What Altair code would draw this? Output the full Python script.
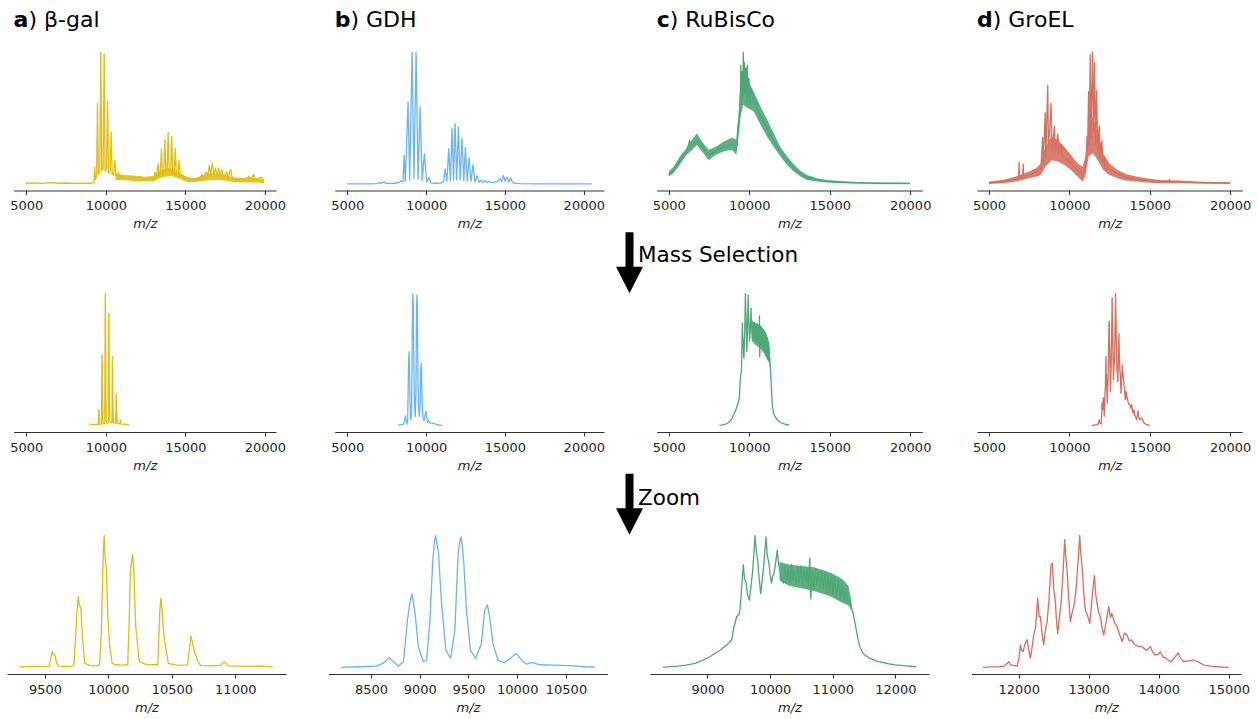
import altair as alt
import pandas as pd

FONT = "DejaVu Sans"

# ---------------- colours / titles ----------------
COLORS = {"a": "#E1BE12", "b": "#6BB4F5", "c": "#4DA776", "d": "#D66F5E"}
TITLES = {"a": ") β-gal", "b": ") GDH", "c": ") RuBisCo", "d": ") GroEL"}
TITLE_SIZE = 22
LETTER_W = {"a": 14.85, "b": 15.75, "c": 13.05, "d": 15.75}

# ---------------- row 1: full spectra (m/z, normalised intensity) ----------------
A_FULL = [(4950, 0.005), (5500, 0.008), (6000, 0.004), (6500, 0.009), (7000, 0.005), (7500, 0.007),
          (8000, 0.004), (8500, 0.006), (9000, 0.005), (9250, 0.01), (9300, 0.127), (9350, 0.03),
          (9420, 0.06), (9476, 0.61), (9530, 0.07), (9620, 0.10), (9686, 1.0), (9740, 0.10),
          (9830, 0.12), (9895, 0.987), (9950, 0.10), (10040, 0.11), (10105, 0.628), (10170, 0.08),
          (10270, 0.09), (10335, 0.394), (10400, 0.07), (10500, 0.07), (10566, 0.178), (10630, 0.06),
          (10750, 0.07), (10800, 0.09), (10860, 0.05), (11000, 0.06), (11200, 0.045), (11500, 0.05),
          (11800, 0.04), (12100, 0.05), (12400, 0.035), (12700, 0.045), (13000, 0.03), (13100, 0.09),
          (13150, 0.04), (13289, 0.153), (13350, 0.06), (13430, 0.08), (13500, 0.267), (13560, 0.07),
          (13650, 0.09), (13710, 0.336), (13780, 0.09), (13860, 0.10), (13918, 0.389), (13990, 0.10),
          (14080, 0.10), (14140, 0.361), (14210, 0.08), (14300, 0.08), (14370, 0.267), (14440, 0.07),
          (14540, 0.07), (14610, 0.176), (14680, 0.06), (14800, 0.07), (15000, 0.04), (15300, 0.035),
          (15600, 0.03), (15900, 0.04), (16050, 0.07), (16150, 0.05), (16300, 0.09), (16400, 0.06),
          (16500, 0.14), (16580, 0.07), (16700, 0.16), (16780, 0.07), (16900, 0.12), (16980, 0.06),
          (17100, 0.12), (17180, 0.06), (17300, 0.11), (17400, 0.05), (17600, 0.09), (17700, 0.05),
          (17850, 0.11), (17950, 0.04), (18200, 0.03), (18500, 0.04), (18800, 0.025), (19000, 0.06),
          (19100, 0.03), (19300, 0.07), (19400, 0.03), (19600, 0.04), (19800, 0.05), (19950, 0.025)]
# noise band (m/z, lower edge, upper edge)
A_FULL_BAND = [(10600, 0.03, 0.08), (11000, 0.03, 0.07), (11500, 0.025, 0.065), (12000, 0.02, 0.06),
               (12500, 0.02, 0.055), (13000, 0.02, 0.06), (13300, 0.04, 0.09), (13600, 0.05, 0.11),
               (14000, 0.06, 0.12), (14400, 0.05, 0.1), (14800, 0.03, 0.07), (15200, 0.015, 0.05),
               (15600, 0.015, 0.045), (16000, 0.02, 0.06), (16500, 0.03, 0.08), (17000, 0.03, 0.08),
               (17500, 0.025, 0.07), (18000, 0.015, 0.05), (18500, 0.01, 0.045), (19000, 0.01, 0.05),
               (19500, 0.01, 0.045), (19950, 0.005, 0.03)]

B_FULL = [(4980, 0.0), (6000, 0.0), (6900, 0.002), (7061, 0.012), (7150, 0.004), (7335, 0.015),
          (7450, 0.004), (8000, 0.005), (8300, 0.012), (8392, 0.025), (8480, 0.015), (8540, 0.02),
          (8603, 0.216), (8680, 0.02), (8857, 0.623), (8960, 0.03), (9111, 1.0), (9230, 0.04),
          (9365, 1.0), (9490, 0.035), (9619, 0.585), (9750, 0.025), (9892, 0.229), (10040, 0.015),
          (10187, 0.046), (10300, 0.008), (10600, 0.005), (10900, 0.006), (11050, 0.012), (11120, 0.025),
          (11203, 0.115), (11320, 0.02), (11437, 0.267), (11540, 0.025), (11646, 0.42), (11740, 0.03),
          (11836, 0.458), (11940, 0.03), (12048, 0.432), (12160, 0.03), (12280, 0.344), (12390, 0.025),
          (12492, 0.275), (12610, 0.02), (12724, 0.198), (12850, 0.02), (12977, 0.147), (13100, 0.015),
          (13230, 0.063), (13360, 0.012), (13500, 0.03), (13620, 0.01), (13750, 0.025), (13870, 0.01),
          (14000, 0.018), (14200, 0.01), (14450, 0.015), (14689, 0.04), (14790, 0.02), (14900, 0.065),
          (15010, 0.02), (15133, 0.05), (15250, 0.015), (15365, 0.046), (15480, 0.01), (15700, 0.004),
          (16000, 0.002), (17000, 0.001), (18000, 0.001), (19000, 0.0), (20500, 0.0)]

C_FULL = [(5000, 0.07), (5300, 0.1), (5700, 0.18), (6100, 0.245), (6300, 0.33), (6350, 0.28),
          (6750, 0.34), (7070, 0.28), (7480, 0.22), (7900, 0.25), (8400, 0.28), (8930, 0.3),
          (9200, 0.28), (9250, 0.3), (9280, 0.42), (9380, 0.5), (9450, 0.7), (9480, 0.9),
          (9510, 0.6), (9560, 0.85), (9600, 0.65), (9630, 1.0), (9660, 0.7), (9700, 0.92),
          (9740, 0.68), (9790, 0.88), (9830, 0.62), (9880, 0.9), (9920, 0.66), (9980, 0.8),
          (10040, 0.6), (10100, 0.72), (10280, 0.63), (10690, 0.52), (11100, 0.42), (11520, 0.33),
          (11930, 0.245), (12350, 0.177), (12760, 0.12), (13180, 0.077), (13590, 0.05), (14210, 0.03),
          (14830, 0.02), (15660, 0.013), (16700, 0.008), (17730, 0.005), (19970, 0.003)]
C_FULL_BAND = [(5000, 0.056, 0.094), (5300, 0.08, 0.13), (5700, 0.15, 0.21), (6100, 0.22, 0.27),
               (6350, 0.245, 0.32), (6750, 0.296, 0.385), (7070, 0.245, 0.32), (7480, 0.18, 0.26),
               (7900, 0.22, 0.28), (8400, 0.245, 0.32), (8930, 0.26, 0.35), (9200, 0.22, 0.335),
               (9280, 0.3, 0.44), (9380, 0.4, 0.6), (9450, 0.5, 0.75), (9620, 0.6, 0.85),
               (9870, 0.58, 0.8), (10280, 0.55, 0.7), (10690, 0.45, 0.59), (11100, 0.36, 0.49),
               (11520, 0.28, 0.385), (11930, 0.21, 0.28), (12350, 0.144, 0.21), (12760, 0.094, 0.15),
               (13180, 0.056, 0.1), (13590, 0.03, 0.068), (14210, 0.018, 0.043), (14830, 0.01, 0.03),
               (15660, 0.005, 0.023), (16700, 0.003, 0.015), (17730, 0.003, 0.01), (19970, 0.0, 0.008)]

D_FULL = [(5000, 0.01), (6000, 0.02), (6650, 0.035), (6840, 0.04), (6870, 0.165), (6900, 0.05),
          (7090, 0.05), (7120, 0.15), (7150, 0.06), (7500, 0.07), (7950, 0.09), (8220, 0.11),
          (8330, 0.35), (8370, 0.15), (8490, 0.54), (8530, 0.2), (8650, 0.75), (8700, 0.25),
          (8860, 0.61), (8910, 0.25), (9070, 0.44), (9120, 0.24), (9280, 0.38), (9330, 0.23),
          (9500, 0.3), (9520, 0.22), (9700, 0.2), (10100, 0.16), (10500, 0.1), (10820, 0.07),
          (10990, 0.13), (11050, 0.2), (11089, 0.36), (11130, 0.25), (11192, 0.7), (11240, 0.3),
          (11296, 0.98), (11350, 0.35), (11442, 1.0), (11500, 0.4), (11566, 0.92), (11620, 0.3),
          (11691, 0.71), (11760, 0.25), (11857, 0.44), (11920, 0.2), (12024, 0.33), (12080, 0.15),
          (12169, 0.2), (12210, 0.12), (12480, 0.11), (13000, 0.075), (13520, 0.05), (14150, 0.037),
          (14770, 0.027), (15600, 0.018), (16200, 0.02), (16230, 0.035), (16260, 0.015), (16800, 0.015),
          (18000, 0.01), (20000, 0.006)]
D_FULL_BAND = [(5000, 0.0, 0.018), (5830, 0.005, 0.03), (6660, 0.018, 0.056), (7500, 0.043, 0.094),
               (7950, 0.056, 0.12), (8220, 0.068, 0.157), (8500, 0.13, 0.28), (8900, 0.18, 0.36),
               (9300, 0.17, 0.33), (9700, 0.144, 0.28), (10100, 0.106, 0.22), (10500, 0.056, 0.157),
               (10820, 0.018, 0.13), (10990, 0.056, 0.21), (11200, 0.21, 0.435), (11460, 0.233, 0.51),
               (11770, 0.18, 0.385), (12100, 0.106, 0.233), (12480, 0.068, 0.157), (13000, 0.043, 0.106),
               (13520, 0.025, 0.076), (14150, 0.018, 0.056), (14770, 0.01, 0.043), (15600, 0.005, 0.03),
               (16800, 0.005, 0.025), (18000, 0.003, 0.018), (20000, 0.0, 0.013)]

# ---------------- rows 2 and 3: mass-selected spectra ----------------
A_SEL = [(8940, 0.01), (9100, 0.008), (9300, 0.005), (9400, 0.008), (9500, 0.006), (9534, 0.01),
         (9550, 0.09), (9557, 0.12), (9565, 0.1), (9578, 0.094), (9590, 0.04), (9604, 0.01),
         (9650, 0.008), (9700, 0.007), (9727, 0.015), (9745, 0.3), (9752, 0.435), (9763, 0.537),
         (9770, 0.47), (9782, 0.46), (9795, 0.233), (9813, 0.03), (9850, 0.015), (9900, 0.012),
         (9930, 0.018), (9945, 0.3), (9952, 0.61), (9960, 0.9), (9967, 1.0), (9972, 0.85),
         (9978, 0.79), (9984, 0.74), (9995, 0.4), (10008, 0.18), (10029, 0.03), (10060, 0.02),
         (10100, 0.018), (10152, 0.02), (10165, 0.4), (10172, 0.714), (10180, 0.79), (10191, 0.853),
         (10200, 0.74), (10215, 0.31), (10243, 0.043), (10290, 0.025), (10340, 0.02), (10389, 0.02),
         (10400, 0.3), (10405, 0.435), (10414, 0.524), (10423, 0.435), (10438, 0.233), (10472, 0.03),
         (10530, 0.02), (10580, 0.015), (10624, 0.02), (10638, 0.13), (10651, 0.24), (10660, 0.2),
         (10672, 0.144), (10700, 0.056), (10726, 0.015), (10800, 0.012), (10883, 0.015), (10911, 0.043),
         (10925, 0.03), (10945, 0.012), (11000, 0.01), (11100, 0.008), (11200, 0.01), (11296, 0.006),
         (11450, 0.005)]

B_SEL = [(8194, 0.0), (8391, 0.005), (8561, 0.01), (8629, 0.035), (8687, 0.073), (8731, 0.043),
         (8782, 0.01), (8833, 0.043), (8874, 0.36), (8901, 0.5), (8922, 0.557), (8952, 0.41),
         (8986, 0.157), (9037, 0.043), (9071, 0.056), (9105, 0.36), (9132, 0.79), (9150, 0.95),
         (9163, 1.0), (9175, 0.94), (9190, 0.89), (9224, 0.486), (9268, 0.13), (9316, 0.068),
         (9360, 0.28), (9394, 0.865), (9410, 0.95), (9424, 0.99), (9436, 0.93), (9452, 0.79),
         (9479, 0.435), (9520, 0.13), (9574, 0.068), (9632, 0.18), (9666, 0.435), (9694, 0.473),
         (9717, 0.385), (9751, 0.18), (9802, 0.056), (9870, 0.035), (9938, 0.076), (9989, 0.106),
         (10040, 0.06), (10091, 0.025), (10159, 0.038), (10227, 0.02), (10363, 0.018), (10533, 0.013),
         (10703, 0.005), (10796, 0.003), (11000, 0.0)]

C_SEL = [(8150, 0.0), (8285, 0.002), (8500, 0.008), (8660, 0.018), (8800, 0.03), (8937, 0.056),
         (9050, 0.085), (9202, 0.13), (9250, 0.15), (9308, 0.17), (9350, 0.19), (9388, 0.21),
         (9420, 0.3), (9467, 0.385), (9500, 0.4), (9520, 0.435), (9545, 0.6), (9573, 0.777),
         (9590, 0.68), (9616, 0.64), (9640, 0.55), (9669, 0.51), (9690, 0.6), (9717, 0.71),
         (9740, 0.85), (9759, 1.0), (9780, 0.88), (9801, 0.815), (9825, 0.68), (9849, 0.56),
         (9870, 0.64), (9891, 0.74), (9912, 0.85), (9934, 0.99), (9955, 0.85), (9982, 0.79),
         (10000, 0.7), (10024, 0.64), (10040, 0.69), (10061, 0.71), (10090, 0.8), (10114, 0.89),
         (10135, 0.78), (10157, 0.74), (10180, 0.68), (10210, 0.64), (10240, 0.76), (10265, 0.66),
         (10290, 0.75), (10315, 0.65), (10340, 0.78), (10365, 0.66), (10390, 0.74), (10415, 0.64),
         (10440, 0.76), (10465, 0.65), (10490, 0.77), (10515, 0.63), (10540, 0.74), (10565, 0.65),
         (10590, 0.75), (10610, 0.62), (10634, 0.83), (10650, 0.52), (10675, 0.74), (10700, 0.6),
         (10725, 0.75), (10750, 0.62), (10775, 0.72), (10800, 0.6), (10825, 0.73), (10850, 0.6),
         (10875, 0.72), (10900, 0.58), (10925, 0.7), (10950, 0.57), (10975, 0.7), (11006, 0.55),
         (11030, 0.68), (11060, 0.53), (11090, 0.66), (11120, 0.51), (11150, 0.64), (11180, 0.5),
         (11210, 0.6), (11240, 0.5), (11272, 0.51), (11300, 0.45), (11325, 0.41), (11350, 0.35),
         (11378, 0.28), (11405, 0.21), (11431, 0.157), (11484, 0.106), (11590, 0.068), (11720, 0.045),
         (11855, 0.03), (11990, 0.02), (12121, 0.013), (12334, 0.005), (12490, 0.002)]
C_SEL_BAND = [(10150, 0.66, 0.8), (10300, 0.62, 0.78), (10500, 0.6, 0.77), (10700, 0.58, 0.76),
              (10900, 0.55, 0.73), (11000, 0.53, 0.71), (11150, 0.49, 0.67), (11250, 0.47, 0.62),
              (11300, 0.43, 0.5)]

D_SEL = [(11400, 0.0), (11490, 0.0), (11600, 0.004), (11738, 0.005), (11800, 0.012), (11857, 0.043),
         (11880, 0.02), (11905, 0.018), (11976, 0.01), (12000, 0.06), (12024, 0.17), (12040, 0.13),
         (12062, 0.12), (12090, 0.18), (12119, 0.21), (12140, 0.14), (12167, 0.07), (12190, 0.15),
         (12214, 0.245), (12240, 0.3), (12260, 0.45), (12271, 0.524), (12290, 0.385), (12310, 0.385),
         (12335, 0.25), (12357, 0.17), (12380, 0.28), (12405, 0.347), (12430, 0.5), (12462, 0.777),
         (12481, 0.79), (12500, 0.6), (12524, 0.486), (12540, 0.35), (12557, 0.258), (12580, 0.38),
         (12605, 0.486), (12630, 0.7), (12657, 0.972), (12670, 0.85), (12690, 0.74), (12710, 0.55),
         (12738, 0.347), (12765, 0.42), (12795, 0.486), (12820, 0.6), (12838, 0.74), (12860, 0.9),
         (12871, 1.0), (12885, 0.88), (12905, 0.765), (12930, 0.55), (12952, 0.435), (12980, 0.4),
         (13014, 0.334), (13035, 0.45), (13057, 0.587), (13081, 0.696), (13100, 0.55), (13119, 0.486),
         (13140, 0.42), (13167, 0.385), (13190, 0.3), (13214, 0.245), (13250, 0.35), (13286, 0.46),
         (13310, 0.38), (13330, 0.41), (13357, 0.36), (13380, 0.33), (13405, 0.31), (13440, 0.25),
         (13476, 0.195), (13510, 0.26), (13548, 0.245), (13580, 0.2), (13610, 0.21), (13643, 0.18),
         (13700, 0.16), (13762, 0.157), (13820, 0.13), (13881, 0.157), (13910, 0.12), (13952, 0.094),
         (13990, 0.1), (14024, 0.119), (14060, 0.08), (14100, 0.07), (14167, 0.043), (14220, 0.07),
         (14276, 0.111), (14310, 0.07), (14357, 0.043), (14420, 0.05), (14500, 0.056), (14570, 0.04),
         (14643, 0.018), (14740, 0.01), (14833, 0.005), (15000, 0.0)]

FULL = {"a": A_FULL, "b": B_FULL, "c": C_FULL, "d": D_FULL}
FULL_BAND = {"a": A_FULL_BAND, "c": C_FULL_BAND, "d": D_FULL_BAND}
SEL = {"a": A_SEL, "b": B_SEL, "c": C_SEL, "d": D_SEL}
SEL_BAND = {"c": C_SEL_BAND}

# ---------------- axes / layout (pixel frame of the whole figure) ----------------
FIG_W, FIG_H = 1258, 719
TICKS_FULL = [5000, 10000, 15000, 20000]
TICKS_ZOOM = {"a": [9500, 10000, 10500, 11000], "b": [8500, 9000, 9500, 10000, 10500],
              "c": [9000, 10000, 11000, 12000], "d": [12000, 13000, 14000, 15000]}
DOM_FULL = {"a": [4200, 20700], "b": [4204, 21276], "c": [4250, 20750], "d": [4250, 20750]}
DOM_ZOOM = {"a": [9200, 11400], "b": [8064, 10926], "c": [8083, 12536], "d": [11325, 15175]}
RANGE_ZOOM = {"a": (9300, 11300), "b": (8194, 10796), "c": (8285, 12334), "d": (11490, 15000)}
X_PIX_FULL = {"a": [13.6, 276], "b": [334.7, 603.9], "c": [656.7, 922.3], "d": [977, 1242.2]}
X_PIX_ZOOM = {"a": [7, 286], "b": [328.5, 607.5], "c": [650, 929], "d": [971.5, 1241]}
Y_PIX = [[190.5, 45.5], [432, 287], [674, 529]]
ARROW = "M-0.296,-2.556L0.296,-2.556L0.296,0L1,0L0,1.963L-1,0L-0.296,0Z"
ANNOT = [("Mass Selection", 638, 262.3, 629.5, 266.7), ("Zoom", 638, 505, 629.5, 508.3)]
TITLE_BASE = 26.7


def x_axis(ticks, row):
    return alt.Axis(values=ticks, format="d", title="m/z", orient="bottom",
                    offset=Y_PIX[row][0] - FIG_H, titleFont=FONT, titleFontSize=13,
                    titleFontStyle="italic", titleFontWeight="normal", titleColor="#262626",
                    titlePadding=5, labelFont=FONT, labelFontSize=13, labelColor="#262626",
                    labelPadding=5, labelFlush=False, labelOverlap=False, tickSize=4,
                    tickColor="#333333", tickWidth=1.1, domainColor="#333333", domainWidth=1.2,
                    grid=False)


def one(text):
    return pd.DataFrame({"t": [text]})


def panel(key, row):
    color = COLORS[key]
    if row < 2:
        dom, ticks, xr = DOM_FULL[key], TICKS_FULL, X_PIX_FULL[key]
    else:
        dom, ticks, xr = DOM_ZOOM[key], TICKS_ZOOM[key], X_PIX_ZOOM[key]
    xs = alt.Scale(domain=dom, range=xr, nice=False, zero=False)
    ys = alt.Scale(domain=[-0.05, 1.05], range=Y_PIX[row], nice=False, zero=False)
    xenc = alt.X("mz:Q", scale=xs, axis=x_axis(ticks, row))
    layers = []
    band = FULL_BAND.get(key) if row == 0 else SEL_BAND.get(key)
    if band is not None:
        band_df = pd.DataFrame(band, columns=["mz", "lo", "hi"])
        layers.append(alt.Chart(band_df).mark_area(color=color, opacity=0.9).encode(
            x=xenc, y=alt.Y("lo:Q", scale=ys, axis=None), y2="hi:Q"))
    line_df = pd.DataFrame(FULL[key] if row == 0 else SEL[key], columns=["mz", "inten"])
    base = alt.Chart(line_df)
    if row == 2:
        lo, hi = RANGE_ZOOM[key]
        base = base.transform_filter((alt.datum.mz >= lo) & (alt.datum.mz <= hi))
    layers.append(base.mark_line(color=color, strokeWidth=1.3, strokeJoin="round").encode(
        x=xenc, y=alt.Y("inten:Q", scale=ys, axis=None)))
    return alt.layer(*layers)


panels = [panel(k, r) for r in range(3) for k in "abcd"]

texts = []
for k in "abcd":
    x0 = X_PIX_FULL[k][0]
    texts.append(alt.Chart(one(k)).mark_text(
        font=FONT, fontSize=TITLE_SIZE, fontWeight="bold", align="left", baseline="alphabetic",
        color="black").encode(text="t:N", x=alt.value(x0), y=alt.value(TITLE_BASE)))
    texts.append(alt.Chart(one(TITLES[k])).mark_text(
        font=FONT, fontSize=TITLE_SIZE, align="left", baseline="alphabetic",
        color="black").encode(text="t:N", x=alt.value(x0 + LETTER_W[k]), y=alt.value(TITLE_BASE)))
for label, tx, ty, ax, ay in ANNOT:
    texts.append(alt.Chart(one(label)).mark_text(
        font=FONT, fontSize=21.5, align="left", baseline="alphabetic", color="black").encode(
        text="t:N", x=alt.value(tx), y=alt.value(ty)))
    texts.append(alt.Chart(one(label)).mark_point(
        shape=ARROW, filled=True, size=729, color="black", opacity=1, strokeWidth=0).encode(
        x=alt.value(ax), y=alt.value(ay)))

chart = alt.layer(*panels, *texts).resolve_scale(
    x="independent", y="independent"
).resolve_axis(
    x="independent", y="independent"
).properties(
    width=FIG_W, height=FIG_H, padding=0, background="white",
    autosize=alt.AutoSizeParams(type="none")
).configure_view(strokeWidth=0)

chart.save("out.html", embed_options={"renderer": "svg", "actions": False})
